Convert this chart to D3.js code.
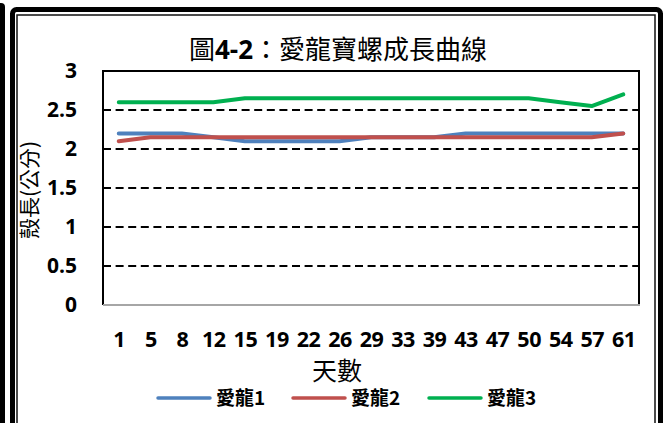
<!DOCTYPE html>
<html>
<head>
<meta charset="utf-8">
<script src="https://cdn.jsdelivr.net/npm/d3@7"></script>
<style>
  html, body { margin: 0; padding: 0; background: #fff; }
  svg { display: block; }
</style>
</head>
<body>
<svg id="chart" width="668" height="423"></svg>
<script>
const days = [1, 5, 8, 12, 15, 19, 22, 26, 29, 33, 39, 43, 47, 50, 54, 57, 61];
const ailong1 = [2.2, 2.2, 2.2, 2.15, 2.1, 2.1, 2.1, 2.1, 2.15, 2.15, 2.15, 2.2, 2.2, 2.2, 2.2, 2.2, 2.2];
const ailong2 = [2.1, 2.15, 2.15, 2.15, 2.15, 2.15, 2.15, 2.15, 2.15, 2.15, 2.15, 2.15, 2.15, 2.15, 2.15, 2.15, 2.2];
const ailong3 = [2.6, 2.6, 2.6, 2.6, 2.65, 2.65, 2.65, 2.65, 2.65, 2.65, 2.65, 2.65, 2.65, 2.65, 2.6, 2.55, 2.7];
const yTicks = [0, 0.5, 1, 1.5, 2, 2.5, 3];

const seriesNames = ["愛龍1", "愛龍2", "愛龍3"];
const seriesColors = ["#4F81BD", "#C0504D", "#00B050"];
const series = [ailong1, ailong2, ailong3];

const cjk = "'Noto Sans CJK TC', 'Noto Sans CJK SC', sans-serif";
const latin = "'Open Sans', 'Liberation Sans', sans-serif";

const svg = d3.select("#chart");

// frames (the picture sits inside a double border, plus part of another frame on the left)
svg.append("rect")
  .attr("x", -5).attr("y", 3).attr("width", 10).attr("height", 500)
  .attr("rx", 4).attr("fill", "#000");
svg.append("rect")
  .attr("x", 12.5).attr("y", 9.5).attr("width", 648).attr("height", 500)
  .attr("rx", 4).attr("fill", "#fff").attr("stroke", "#000").attr("stroke-width", 5);
svg.append("rect")
  .attr("x", 17).attr("y", 15).attr("width", 638).attr("height", 500)
  .attr("fill", "none").attr("stroke", "#111").attr("stroke-width", 1.5);

const plot = { left: 103, right: 639, top: 71, bottom: 305 };

const x = d3.scalePoint()
  .domain(days)
  .range([plot.left, plot.right])
  .padding(0.5);

const y = d3.scaleLinear()
  .domain([0, 3])
  .range([plot.bottom, plot.top]);

// dashed gridlines
svg.append("g")
  .selectAll("line")
  .data(yTicks.filter((d) => d > 0 && d < 3))
  .join("line")
  .attr("x1", plot.left).attr("x2", plot.right)
  .attr("y1", (d) => y(d)).attr("y2", (d) => y(d))
  .attr("stroke", "#000")
  .attr("stroke-width", 2)
  .attr("stroke-dasharray", "8,4.6");

// plot box: black left/top/right, grey category axis
svg.append("path")
  .attr("d", `M${plot.left},${plot.bottom}V${plot.top}H${plot.right}V${plot.bottom}`)
  .attr("fill", "none").attr("stroke", "#000").attr("stroke-width", 2);
svg.append("line")
  .attr("x1", plot.left).attr("x2", plot.right + 1)
  .attr("y1", plot.bottom).attr("y2", plot.bottom)
  .attr("stroke", "#A6A6A6").attr("stroke-width", 2);

// axes
const yAxis = svg.append("g")
  .attr("transform", `translate(${plot.left},0)`)
  .call(d3.axisLeft(y).tickValues(yTicks).tickFormat((d) => d).tickSize(0).tickPadding(26));
yAxis.select(".domain").remove();
yAxis.selectAll("text")
  .attr("font-family", latin).attr("font-weight", "bold")
  .attr("font-size", 21).attr("fill", "#000");

const xAxis = svg.append("g")
  .attr("transform", `translate(0,${plot.bottom})`)
  .call(d3.axisBottom(x).tickSize(0).tickPadding(27));
xAxis.select(".domain").remove();
xAxis.selectAll("text")
  .attr("font-family", latin).attr("font-weight", "bold")
  .attr("font-size", 21.5).attr("letter-spacing", -0.5).attr("fill", "#000");

// lines
const line = d3.line()
  .x((d, i) => x(days[i]))
  .y((d) => y(d));

svg.append("g")
  .selectAll("path")
  .data(series)
  .join("path")
  .attr("d", (d) => line(d))
  .attr("fill", "none")
  .attr("stroke", (d, i) => seriesColors[i])
  .attr("stroke-width", 4)
  .attr("stroke-linejoin", "round")
  .attr("stroke-linecap", "round");

// title
const title = svg.append("text")
  .attr("x", 338).attr("y", 59)
  .attr("text-anchor", "middle")
  .attr("font-size", 26)
  .attr("font-family", cjk);
title.append("tspan").text("圖");
title.append("tspan").attr("font-family", latin).attr("font-weight", "bold").text("4-2");
title.append("tspan").text("：愛龍寶螺成長曲線");

// axis titles
svg.append("text")
  .attr("transform", "translate(37,190) rotate(-90)")
  .attr("text-anchor", "middle")
  .attr("font-size", 21)
  .attr("font-family", cjk)
  .text("殼長(公分)");

svg.append("text")
  .attr("x", 337).attr("y", 380)
  .attr("text-anchor", "middle")
  .attr("font-size", 25)
  .attr("font-family", cjk)
  .text("天數");

// legend
const legendX = [158, 293, 429];
const legend = svg.append("g")
  .selectAll("g")
  .data(seriesNames)
  .join("g")
  .attr("transform", (d, i) => `translate(${legendX[i]},398)`);
legend.append("line")
  .attr("x1", 0).attr("x2", 52)
  .attr("stroke", (d, i) => seriesColors[i])
  .attr("stroke-width", 3.5)
  .attr("stroke-linecap", "round");
legend.append("text")
  .attr("x", 58).attr("dy", "0.35em")
  .attr("font-size", 19)
  .attr("font-weight", "bold")
  .attr("font-family", cjk)
  .text((d) => d);
</script>
</body>
</html>
